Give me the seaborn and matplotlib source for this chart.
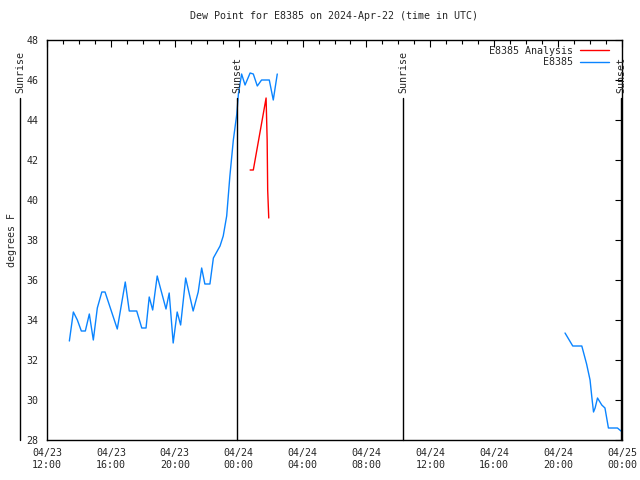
import pandas as pd
import numpy as np
import seaborn as sns
import matplotlib.pyplot as plt
import matplotlib.dates as mdates
import matplotlib.transforms as mtransforms
from matplotlib.lines import Line2D

# observed dew point, first stretch (04/23 afternoon into early 04/24)
obs1_time = ["2024-04-23 13:24", "2024-04-23 13:39", "2024-04-23 13:54", "2024-04-23 14:09",
             "2024-04-23 14:24", "2024-04-23 14:39", "2024-04-23 14:54", "2024-04-23 15:09",
             "2024-04-23 15:26", "2024-04-23 15:38", "2024-04-23 16:24", "2024-04-23 16:54",
             "2024-04-23 17:09", "2024-04-23 17:37", "2024-04-23 17:56", "2024-04-23 18:12",
             "2024-04-23 18:24", "2024-04-23 18:37", "2024-04-23 18:54", "2024-04-23 19:27",
             "2024-04-23 19:39", "2024-04-23 19:54", "2024-04-23 20:09", "2024-04-23 20:22",
             "2024-04-23 20:41", "2024-04-23 21:09", "2024-04-23 21:28", "2024-04-23 21:41",
             "2024-04-23 21:53", "2024-04-23 22:12", "2024-04-23 22:25", "2024-04-23 22:50",
             "2024-04-23 23:02", "2024-04-23 23:15", "2024-04-23 23:27", "2024-04-23 23:40",
             "2024-04-23 23:53", "2024-04-23 23:59", "2024-04-24 00:11", "2024-04-24 00:24",
             "2024-04-24 00:43", "2024-04-24 00:55", "2024-04-24 01:10", "2024-04-24 01:26",
             "2024-04-24 01:55", "2024-04-24 02:10", "2024-04-24 02:25"]
obs1_dew = [32.95, 34.4, 34.0, 33.45, 33.45, 34.3, 33.0, 34.6,
            35.4, 35.4, 33.55, 35.9, 34.45, 34.45, 33.6, 33.6,
            35.15, 34.5, 36.2, 34.55, 35.35, 32.85, 34.4, 33.75,
            36.1, 34.45, 35.4, 36.6, 35.8, 35.8, 37.1, 37.7,
            38.2, 39.2, 41.2, 43.0, 44.3, 45.3, 46.3, 45.75,
            46.35, 46.3, 45.7, 46.0, 46.0, 45.0, 46.3]

# observed dew point, second stretch (04/24 evening)
obs2_time = ["2024-04-24 20:26", "2024-04-24 20:55", "2024-04-24 21:29", "2024-04-24 21:47",
             "2024-04-24 22:00", "2024-04-24 22:07", "2024-04-24 22:13", "2024-04-24 22:19",
             "2024-04-24 22:28", "2024-04-24 22:44", "2024-04-24 22:56", "2024-04-24 23:09",
             "2024-04-24 23:43", "2024-04-24 23:56"]
obs2_dew = [33.35, 32.7, 32.7, 31.8, 31.0, 30.1, 29.4, 29.6,
            30.1, 29.75, 29.6, 28.6, 28.6, 28.45]

# analysis
ana_time = ["2024-04-24 00:43", "2024-04-24 00:55", "2024-04-24 01:43", "2024-04-24 01:47",
            "2024-04-24 01:49", "2024-04-24 01:53"]
ana_dew = [41.5, 41.5, 45.1, 43.0, 40.5, 39.1]

sun_time = ["2024-04-23 10:19", "2024-04-23 23:54", "2024-04-24 10:17", "2024-04-24 23:56"]
sun_label = ["Sunrise", "Sunset", "Sunrise", "Sunset"]

blue = "#0a84ff"
red = "#ff0000"

obs1 = pd.DataFrame({"time": pd.to_datetime(obs1_time), "dew": obs1_dew})
obs2 = pd.DataFrame({"time": pd.to_datetime(obs2_time), "dew": obs2_dew})
ana = pd.DataFrame({"time": pd.to_datetime(ana_time), "dew": ana_dew})

sns.set_style("white")
plt.rcParams["font.family"] = ["DejaVu Sans Mono"]
fs = 7.2

fig = plt.figure(figsize=(6.4, 4.8), dpi=100)
ax = fig.add_axes([47 / 640, 40 / 480, 575 / 640, 400 / 480])

sns.lineplot(data=obs1, x="time", y="dew", color=blue, lw=1, ax=ax)
sns.lineplot(data=obs2, x="time", y="dew", color=blue, lw=1, ax=ax)
sns.lineplot(data=ana, x="time", y="dew", color=red, lw=1, ax=ax)

ax.set_xlim(pd.Timestamp("2024-04-23 12:00"), pd.Timestamp("2024-04-25 00:00"))
ax.set_ylim(28, 48)
ax.set_yticks(np.arange(28, 49, 2))
ax.xaxis.set_major_locator(mdates.HourLocator(byhour=[0, 4, 8, 12, 16, 20]))
ax.xaxis.set_minor_locator(mdates.HourLocator())
ax.xaxis.set_major_formatter(mdates.DateFormatter("%m/%d\n%H:%M"))
ax.tick_params(which="both", direction="in", top=True, right=True, labelsize=fs,
               color="black", pad=6)
ax.tick_params(which="major", length=5, width=0.8)
ax.tick_params(which="minor", length=3, width=0.8)
for s in ax.spines.values():
    s.set_color("black")
    s.set_linewidth(1)

ax.set_xlabel("")
ax.set_ylabel("degrees F", fontsize=fs)
ax.yaxis.set_label_coords(-0.053, 0.5)
ax.set_title("Dew Point for E8385 on 2024-Apr-22 (time in UTC)", fontsize=fs, pad=15)

trans = mtransforms.blended_transform_factory(ax.transData, ax.transAxes)
for t, lab in zip(pd.to_datetime(sun_time), sun_label):
    ax.plot([t, t], [0, 0.855], color="black", lw=1, transform=trans, clip_on=False)
    ax.text(t, 0.867, lab, rotation=90, ha="center", va="bottom", fontsize=fs,
            transform=trans, clip_on=False)

handles = [Line2D([], [], color=red, lw=1), Line2D([], [], color=blue, lw=1)]
ax.legend(handles, ["E8385 Analysis", "E8385"], loc="upper right", frameon=False,
          markerfirst=False, fontsize=fs, handlelength=2.9, handletextpad=0.7,
          borderaxespad=0.2, labelspacing=0.15, bbox_to_anchor=(0.987, 1.0))

fig.savefig("out.png", dpi=100)
